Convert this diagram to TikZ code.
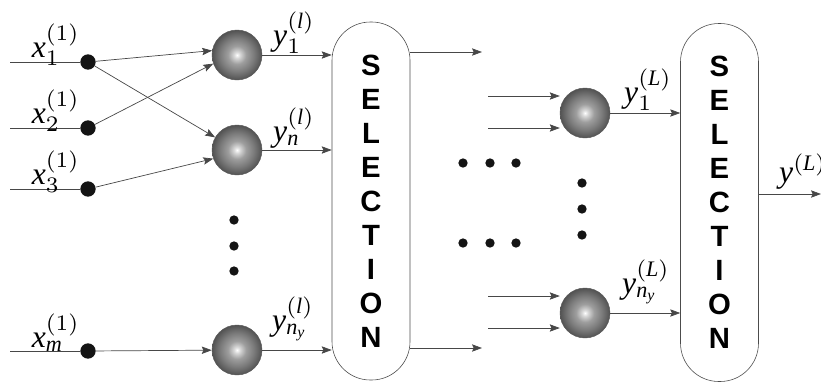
\documentclass[tikz,border=0pt]{standalone}
\usepackage{fontspec}
\setmainfont{Liberation Serif}
\newfontfamily\selfont{Liberation Sans}
\usetikzlibrary{arrows.meta}
\pgfdeclareradialshading{sphere}{\pgfpoint{0bp}{0bp}}{color(0bp)=(white); color(3bp)=(white!85!black); color(9bp)=(black!38); color(17bp)=(black!52); color(25bp)=(black!68); color(50bp)=(black!68)}
\newcommand{\mlab}[1]{\scalebox{2.7}{$#1$}}
\newcommand{\iv}[1]{\mathit{#1}}
\tikzset{
  ln/.style={draw=black!72, line width=0.6pt},
  arr/.style={ln, -{Stealth[length=3mm,width=2.2mm,inset=0.5mm]}},
  neuron/.style={circle, minimum size=15mm, inner sep=0pt, draw=black!65, line width=0.4pt, shading=sphere},
  indot/.style={circle, fill=black!92, inner sep=0pt, minimum size=4.6mm},
  edot/.style={circle, fill=black!92, inner sep=0pt, minimum size=2.8mm},
  lab/.style={inner sep=0pt},
  selbox/.style={draw=black!70, line width=0.5pt, rounded corners=11.5mm, minimum width=23.4mm, minimum height=107.4mm, align=center, inner sep=0pt, font=\selfont\bfseries\fontsize{25}{29}\selectfont},
}
\begin{document}
\begin{tikzpicture}[x=0.3mm, y=-0.3mm]
\useasboundingbox (0,0) rectangle (821,383);
% inputs
\node[indot] (d1) at (88,62) {};
\node[indot] (d2) at (88,128) {};
\node[indot] (d3) at (88,189) {};
\node[indot] (dm) at (88,351) {};
\coordinate (i1) at (10,62);
\coordinate (i2) at (10,128);
\coordinate (i3) at (10,189);
\coordinate (im) at (10,351);
\draw[ln] (i1) -- (d1);
\draw[ln] (i2) -- (d2);
\draw[ln] (i3) -- (d3);
\draw[ln] (im) -- (dm);
\node[lab, anchor=base east] (lx1) at (80,57) {\mlab{\iv{x}_1^{(1)}}};
\node[lab, anchor=base east] (lx2) at (80,123) {\mlab{\iv{x}_2^{(1)}}};
\node[lab, anchor=base east] (lx3) at (80,184) {\mlab{\iv{x}_3^{(1)}}};
\node[lab, anchor=base east] (lxm) at (80,347) {\mlab{\iv{x}_{\iv{m}}^{(1)}}};
% first layer neurons
\node[neuron] (n1) at (237,55) {};
\node[neuron] (n2) at (237,150) {};
\node[neuron] (n3) at (237,350) {};
\draw[arr] (d1) -- (n1.170);
\draw[arr] (d2) -- (n1.200);
\draw[arr] (d1) -- (n2.150);
\draw[arr] (d3) -- (n2.200);
\draw[arr] (dm) -- (n3);
\node[edot] (v1) at (234,220) {};
\node[edot] (v2) at (234,246) {};
\node[edot] (v3) at (234,271) {};
% selection 1
\node[selbox] (sel1) at (371,201) {S\\E\\L\\E\\C\\T\\I\\O\\N};
\draw[arr] (n1.east) -- (n1.east -| sel1.west);
\draw[arr] (n2.east) -- (n2.east -| sel1.west);
\draw[arr] (n3.east) -- (n3.east -| sel1.west);
\node[lab, anchor=base west] (ly1) at (273,45) {\mlab{\iv{y}_1^{(\iv{l})}}};
\node[lab, anchor=base west] (lyn) at (273,141) {\mlab{\iv{y}_{\iv{n}}^{(\iv{l})}}};
\node[lab, anchor=base west] (lyny) at (272,330) {\mlab{\iv{y}_{\iv{n}_{\iv{y}}}^{(\iv{l})}}};
\coordinate (o1) at (482,52);
\coordinate (o2) at (482,348);
\draw[arr] (o1 -| sel1.east) -- (o1);
\draw[arr] (o2 -| sel1.east) -- (o2);
% ellipsis rows
\node[edot] (h1) at (463,163) {};
\node[edot] (h2) at (490,163) {};
\node[edot] (h3) at (516,163) {};
\node[edot] (h4) at (463,243) {};
\node[edot] (h5) at (490,243) {};
\node[edot] (h6) at (516,243) {};
% last layer neurons
\node[neuron] (m1) at (585,113) {};
\node[neuron] (m2) at (585,313) {};
\coordinate (a1) at (488,96);
\coordinate (a2) at (488,128);
\coordinate (a3) at (488,296);
\coordinate (a4) at (488,328);
\draw[arr] (a1) -- (a1 -| m1.west);
\draw[arr] (a2) -- (a2 -| m1.west);
\draw[arr] (a3) -- (a3 -| m2.west);
\draw[arr] (a4) -- (a4 -| m2.west);
\node[edot] (w1) at (582,183) {};
\node[edot] (w2) at (582,209) {};
\node[edot] (w3) at (582,235) {};
% selection 2
\node[selbox] (sel2) at (719.5,202.5) {S\\E\\L\\E\\C\\T\\I\\O\\N};
\draw[arr] (m1.east) -- (m1.east -| sel2.west);
\draw[arr] (m2.east) -- (m2.east -| sel2.west);
\node[lab, anchor=base west] (lL1) at (624,102) {\mlab{\iv{y}_1^{(\iv{L})}}};
\node[lab, anchor=base west] (lLn) at (622,293) {\mlab{\iv{y}_{\iv{n}_{\iv{y}}}^{(\iv{L})}}};
\coordinate (out) at (821,194);
\draw[arr] (out -| sel2.east) -- (out);
\node[lab, anchor=base west] (lout) at (779,182) {\mlab{\iv{y}^{(\iv{L})}}};
\end{tikzpicture}
\end{document}
